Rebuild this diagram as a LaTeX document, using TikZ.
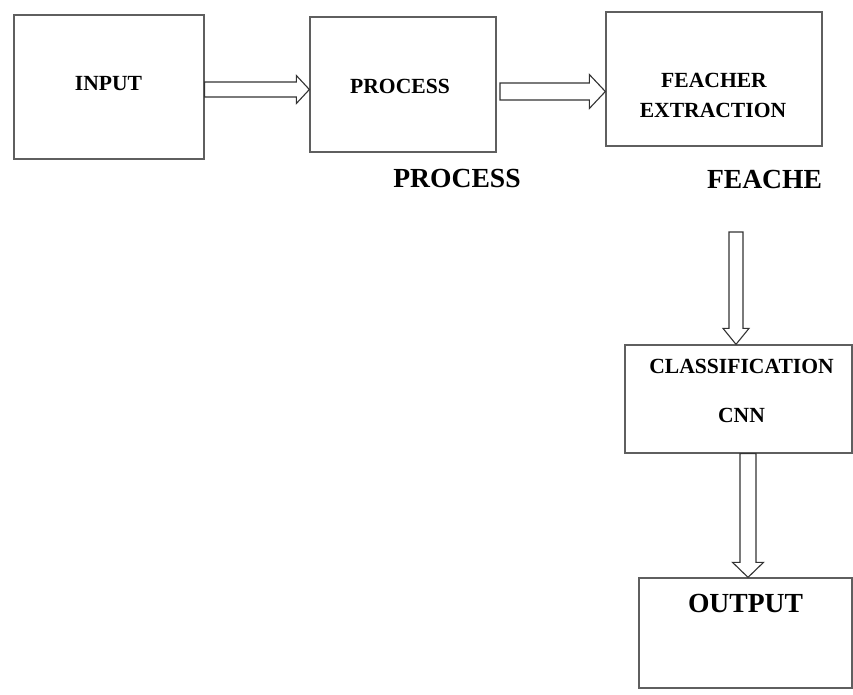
\documentclass[tikz,border=0pt]{standalone}
\usepackage{fontspec}
\setmainfont{Liberation Serif}
\usetikzlibrary{calc}
\definecolor{edge}{RGB}{95,95,95}
\tikzset{
  box/.style={draw=edge, line width=1.3pt, rectangle, inner sep=0pt},
  small/.style={inner sep=0pt, text=black, font=\bfseries\fontsize{21.6}{24}\selectfont},
  big/.style={inner sep=0pt, text=black, font=\bfseries\fontsize{27.6}{30}\selectfont},
  blk/.style={draw=black!80, line width=1.1pt, fill=white, line join=miter}
}
\newcommand{\harrow}[5]{%
  \draw[blk] ($(#1)+(0,-#3)$) -- ($(#2)+(-#5,-#3)$) -- ($(#2)+(-#5,-#4)$) -- (#2)
   -- ($(#2)+(-#5,#4)$) -- ($(#2)+(-#5,#3)$) -- ($(#1)+(0,#3)$) -- cycle;}
\newcommand{\varrow}[5]{%
  \draw[blk] ($(#1)+(-#3,0)$) -- ($(#2)+(-#3,-#5)$) -- ($(#2)+(-#4,-#5)$) -- (#2)
   -- ($(#2)+(#4,-#5)$) -- ($(#2)+(#3,-#5)$) -- ($(#1)+(#3,0)$) -- cycle;}
\begin{document}
\begin{tikzpicture}[x=1pt,y=-1pt]
\useasboundingbox[fill=white] (0,0) rectangle (853,694);
% boxes
\node[box, minimum width=190pt, minimum height=144pt] (input) at (109,87) {};
\node[box, minimum width=186pt, minimum height=135pt] (process) at (403,84.5) {};
\node[box, minimum width=216pt, minimum height=134pt] (feature) at (714,79) {};
\node[box, minimum width=227pt, minimum height=108pt] (classif) at (738.5,399) {};
\node[box, minimum width=213pt, minimum height=110pt] (output) at (745.5,633) {};
% texts
\node[small] (tinput) at (108.5,84) {INPUT};
\node[small] (tprocess) at (400,86.5) {PROCESS};
\node[small] (tfeacher) at (714,80.5) {FEACHER};
\node[small] (textract) at (713,110) {EXTRACTION};
\node[small] (tclass) at (741.5,366.5) {CLASSIFICATION};
\node[small] (tcnn) at (741.5,415) {CNN};
\node[big] (lprocess) at (457,178) {PROCESS};
\node[big] (lfeache) at (764.5,179) {FEACHE};
\node[big] (toutput) at (745.5,603.5) {OUTPUT};
% arrow end points
\coordinate (a1s) at (input.east |- 0,89.5);
\coordinate (a1e) at (process.west |- 0,89.5);
\coordinate (a2s) at (500,91.5);
\coordinate (a2e) at (feature.west |- 0,91.5);
\coordinate (a3s) at (736,232);
\coordinate (a3e) at (736,0 |- classif.north);
\coordinate (a4s) at (748,0 |- classif.south);
\coordinate (a4e) at (748,0 |- output.north);
\harrow{a1s}{a1e}{7.5}{14}{13}
\harrow{a2s}{a2e}{8.5}{17}{16}
\varrow{a3s}{a3e}{7}{13}{16}
\varrow{a4s}{a4e}{8}{15.5}{15}
\end{tikzpicture}
\end{document}
